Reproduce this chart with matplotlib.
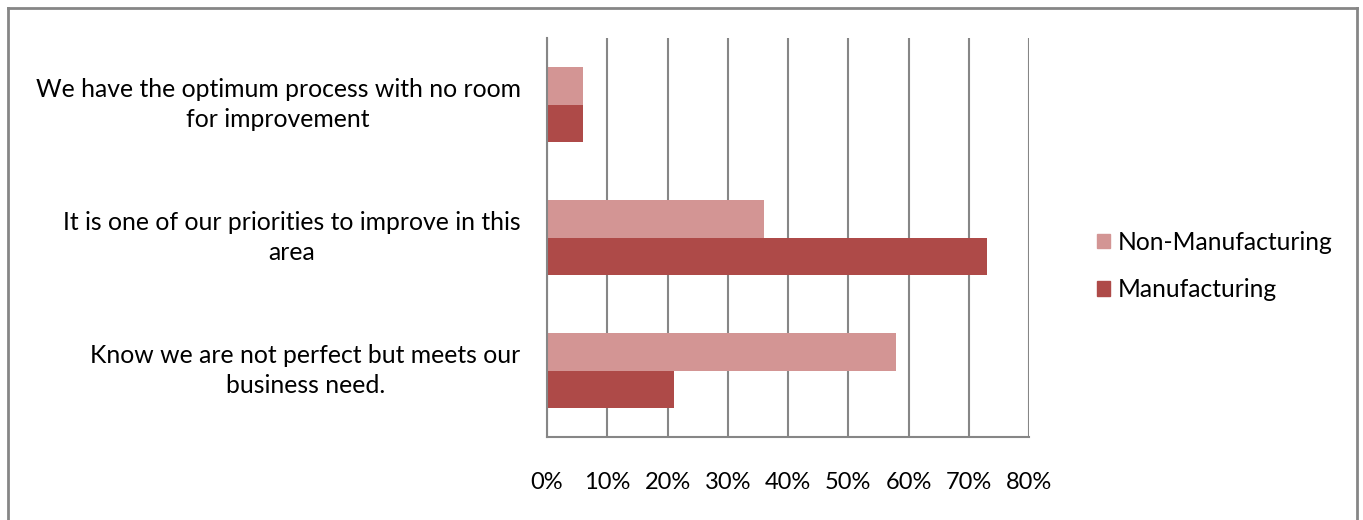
import matplotlib
matplotlib.use("Agg")
import matplotlib.pyplot as plt
from matplotlib.patches import Patch
from matplotlib.ticker import FuncFormatter

categories = [
    "Know we are not perfect but meets our\nbusiness need.",
    "It is one of our priorities to improve in this\narea",
    "We have the optimum process with no room\nfor improvement",
]
series_names = ["Non-Manufacturing", "Manufacturing"]
non_manufacturing = [0.58, 0.36, 0.06]
manufacturing = [0.21, 0.73, 0.06]
x_ticks = [0, 0.1, 0.2, 0.3, 0.4, 0.5, 0.6, 0.7, 0.8]

light = "#D39594"
dark = "#AE4A48"
grid = "#868686"

plt.rcParams['font.family'] = ['Lato', 'DejaVu Sans']

W, H = 1363, 520
fig = plt.figure(figsize=(W / 100, H / 100), dpi=100)
ax = fig.add_axes([547 / W, 1 - 437 / H, (1029 - 547) / W, (437 - 38) / H])

bh = 0.28
ys = list(range(len(categories)))
ax.barh([y + bh / 2 for y in ys], non_manufacturing, height=bh, color=light, label=series_names[0])
ax.barh([y - bh / 2 for y in ys], manufacturing, height=bh, color=dark, label=series_names[1])

ax.set_ylim(-0.5, len(categories) - 0.5)
ax.set_xlim(0, 0.8)
ax.set_xticks(x_ticks)
ax.xaxis.set_major_formatter(FuncFormatter(lambda v, p: f"{round(v * 100)}%"))
ax.set_yticks(ys)
ax.set_yticklabels(categories, ha='right', va='center', multialignment='center',
                   fontsize=17.8, linespacing=1.41)
for lab in ax.get_xticklabels():
    lab.set_fontsize(17)
ax.tick_params(axis='x', length=0, pad=25)
ax.tick_params(axis='y', length=0, pad=19)
ax.grid(axis='x', color=grid, linewidth=1.5)
ax.set_axisbelow(True)
for s in ['top', 'right']:
    ax.spines[s].set_visible(False)
for s in ['left', 'bottom']:
    ax.spines[s].set_color(grid)
    ax.spines[s].set_linewidth(1.5)

handles = [Patch(color=light), Patch(color=dark)]
fig.legend(handles, series_names, loc='center left', bbox_to_anchor=(1097 / W, 1 - 266 / H),
           frameon=False, fontsize=17.7, handlelength=0.53, handleheight=0.53,
           handletextpad=0.33, labelspacing=1.0, borderpad=0, borderaxespad=0)

# outer chart border (left, top, right)
fig.add_artist(plt.Line2D([8 / W, 8 / W], [0, 1 - 8 / H], transform=fig.transFigure, color=grid, lw=2))
fig.add_artist(plt.Line2D([8 / W, 1357 / W], [1 - 8 / H, 1 - 8 / H], transform=fig.transFigure, color=grid, lw=2))
fig.add_artist(plt.Line2D([1357 / W, 1357 / W], [0, 1 - 8 / H], transform=fig.transFigure, color=grid, lw=2))

fig.savefig("out.png", dpi=100)
